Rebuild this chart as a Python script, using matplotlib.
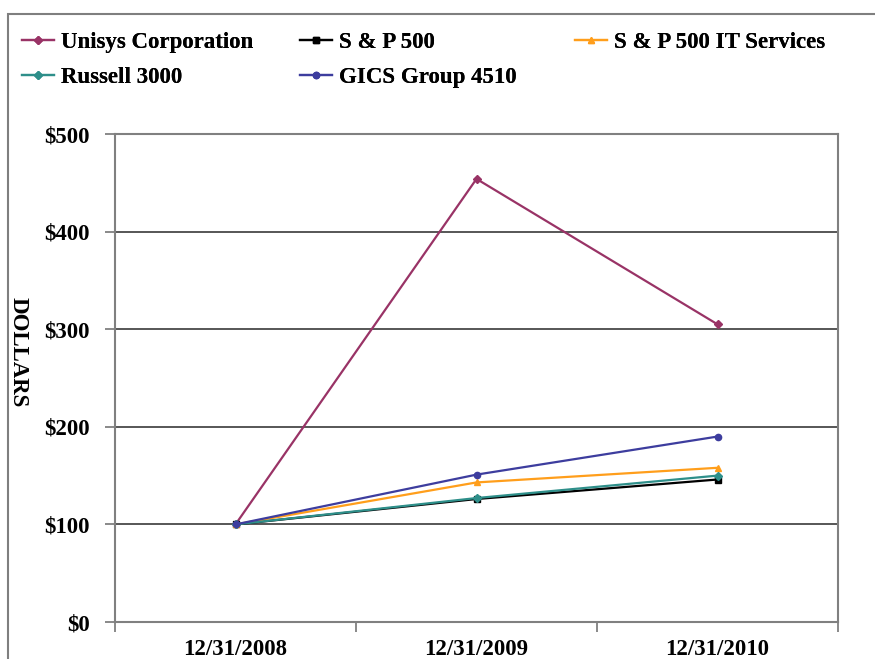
import numpy as np
import matplotlib
matplotlib.use("Agg")
import matplotlib.pyplot as plt
from matplotlib.patches import Rectangle

plt.rcParams["font.family"] = ["Liberation Serif", "DejaVu Serif"]
plt.rcParams["font.weight"] = "bold"

DATES = ["12/31/2008", "12/31/2009", "12/31/2010"]

UNISYS = [100, 454, 305]
SP500 = [100, 126, 146]
SP500_IT = [100, 143, 158]
RUSSELL = [100, 127, 150]
GICS = [100, 151, 190]

Y_TICKS = [0, 100, 200, 300, 400, 500]
Y_LABELS = ["$0", "$100", "$200", "$300", "$400", "$500"]

FS = 16.5

W, H = 875, 659
fig = plt.figure(figsize=(W / 100, H / 100), dpi=100)

# outer frame around the whole chart
fig.patches.append(Rectangle((8 / W, -0.05), 1.2, 1 - 14 / H + 0.05,
                             transform=fig.transFigure, fill=False,
                             edgecolor="#7f7f7f", linewidth=1.5))

ax = fig.add_axes([115 / W, 1 - 622 / H, (838 - 115) / W, (622 - 134) / H])

x = np.arange(len(DATES))
series = [
    ("Unisys Corporation", UNISYS, "#993366", "D", 4),
    ("S & P 500", SP500, "#000000", "s", 4),
    ("S & P 500 IT Services", SP500_IT, "#ff9e1b", "^", 5),
    ("Russell 3000", RUSSELL, "#2e8f8a", "D", 4),
    ("GICS Group 4510", GICS, "#3d3d9e", "o", 4.5),
]
lines = {}
for name, vals, color, mk, ms in series:
    ln, = ax.plot(x, vals, color=color, marker=mk, markersize=ms,
                  linewidth=1.6, label=name, clip_on=False, zorder=3)
    lines[name] = ln

ax.set_xlim(-0.5, 2.5)
ax.set_ylim(0, 500)

for v in Y_TICKS[1:]:
    ax.axhline(v, color="#3a3a3a", linewidth=1.2, zorder=1)

for s in ax.spines.values():
    s.set_color("#808080")
    s.set_linewidth(1.5)

ax.set_yticks(Y_TICKS)
ax.set_yticklabels(Y_LABELS, fontsize=FS, fontweight="bold")
ax.tick_params(axis="y", length=7, width=1.3, color="#808080", pad=11)

ax.set_xticks(x)
ax.set_xticklabels(DATES, fontsize=FS, fontweight="bold")
ax.set_xticks([-0.5, 0.5, 1.5, 2.5], minor=True)
ax.tick_params(axis="x", which="major", length=0, pad=12)
ax.tick_params(axis="x", which="minor", length=7, width=1.3, color="#808080")

fig.text(18 / W, 1 - 352 / H, "DOLLARS", rotation=270, fontsize=FS,
         fontweight="bold", ha="center", va="center")

# legend laid out as three columns like the original
cols = [
    (22, ["Unisys Corporation", "Russell 3000"]),
    (300, ["S & P 500", "GICS Group 4510"]),
    (575, ["S & P 500 IT Services"]),
]
for xpos, names in cols:
    leg = fig.legend([lines[n] for n in names], names,
                     loc="upper left", bbox_to_anchor=(xpos / W, 1 - 32 / H),
                     frameon=False, borderpad=0, borderaxespad=0,
                     handlelength=1.4, handletextpad=0.3, labelspacing=0.6,
                     prop={"size": FS, "weight": "bold"})
    fig.add_artist(leg)

fig.savefig("out.png", dpi=100)
